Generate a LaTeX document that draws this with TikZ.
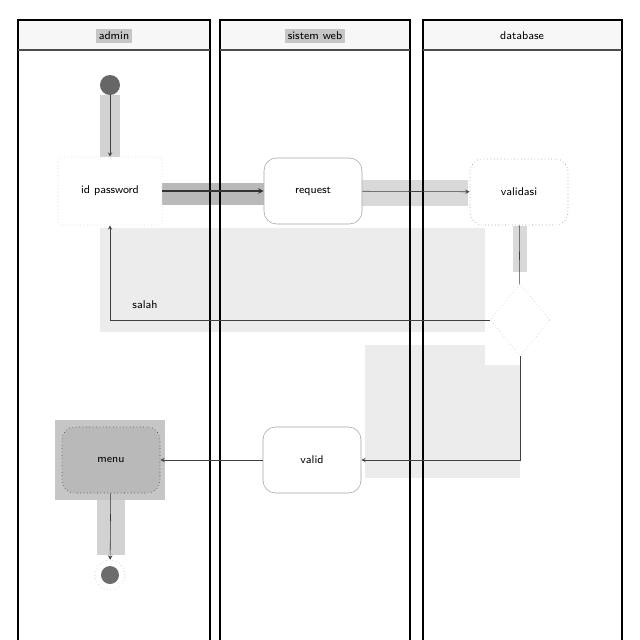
\documentclass[tikz,border=0pt]{standalone}
\usepackage{tikz}
\usetikzlibrary{arrows,shapes,positioning}
\usetikzlibrary{shapes.geometric}
\tikzstyle{lane} = [draw=black, line width=1.4pt]
\tikzstyle{head} = [font=\sffamily\footnotesize, inner sep=2pt]
\tikzstyle{act} = [draw=gray!70, rounded corners=9pt, minimum width=2.45cm, minimum height=1.65cm, fill=white, font=\sffamily\footnotesize]
\tikzstyle{arrow} = [draw=gray!50!black, ->, >=stealth]
\tikzstyle{band} = [fill=gray!35]

\begin{document}
\begin{tikzpicture}[x=0.025cm, y=-0.025cm]
                        \useasboundingbox (0, 0) rectangle (640, 640);
                        \fill [white] (0, 0) rectangle (640, 640);
                        % highlight areas
                        \fill [gray!15] (100, 228) rectangle (485, 332);
                        \fill [gray!15] (365, 345) rectangle (520, 478);
                        \fill [gray!45] (55, 420) rectangle (165, 500);
                        \fill [band] (100, 95) rectangle (120, 160);
                        \fill [gray!55] (162, 183) rectangle (265, 205);
                        \fill [gray!30] (362, 180) rectangle (468, 206);
                        \fill [gray!30] (513, 226) rectangle (527, 275);
                        \fill [band] (97, 500) rectangle (125, 555);
                        % lanes
                        \fill [gray!6] (18, 20) rectangle (210, 50);
                        \fill [gray!6] (220, 20) rectangle (410, 50);
                        \fill [gray!6] (423, 20) rectangle (622, 50);
                        \draw [lane] (18, 640) -- (18, 20) -- (210, 20) -- (210, 640);
                        \draw [lane] (220, 640) -- (220, 20) -- (410, 20) -- (410, 640);
                        \draw [lane] (423, 640) -- (423, 20) -- (622, 20) -- (622, 640);
                        \draw [gray!60!black, line width=1pt] (18, 50) -- (210, 50);
                        \draw [gray!60!black, line width=1pt] (220, 50) -- (410, 50);
                        \draw [gray!60!black, line width=1pt] (423, 50) -- (622, 50);
                        \node [head, fill=gray!45] (hadmin) at (114, 36) {admin};
                        \node [head, fill=gray!45] (hweb) at (315, 36) {sistem web};
                        \node [head] (hdb) at (522, 36) {database};
                        % activities
                        \node [circle, fill=gray!80!black, minimum size=0.5cm] (start) at (110, 85) {};
                        \node [act, rounded corners=2pt, draw=gray!40, dotted, minimum width=2.6cm, minimum height=1.7cm] (idpass) at (110, 191) {id password};
                        \node [act] (request) at (313, 191) {request};
                        \node [act, dotted, draw=gray] (validasi) at (519, 192) {validasi};
                        \fill [white] (485, 272) rectangle (555, 365);
                        \node [diamond, draw=gray!50, dotted, fill=white, minimum width=1.5cm, minimum height=1.8cm] (cek) at (520, 320) {};
                        \node [act] (valid) at (312, 460) {valid};
                        \node [act, fill=gray!55, draw=gray!40!black, dotted] (menu) at (111, 460) {menu};
                        \node [circle, draw=gray!60, dotted, fill=white, minimum size=0.75cm] (stop) at (110, 575) {};
                        \node [circle, fill=gray!85!black, minimum size=0.45cm] at (stop) {};
                        % flows
                        \draw [arrow] (start) -- (idpass);
                        \draw [arrow, thick, draw=black!80] (idpass) -- (request);
                        \draw [arrow] (request) -- (validasi);
                        \draw [draw=gray!50!black] (validasi) -- (cek);
                        \draw [arrow] (cek.west) -| (idpass.south);
                        \node [font=\sffamily\footnotesize] (salah) at (145, 305) {salah};
                        \draw [arrow] (cek.south) |- (valid.east);
                        \draw [arrow] (valid) -- (menu);
                        \draw [arrow, draw=black!80] (menu) -- (stop);
                    \end{tikzpicture}
\end{document}
